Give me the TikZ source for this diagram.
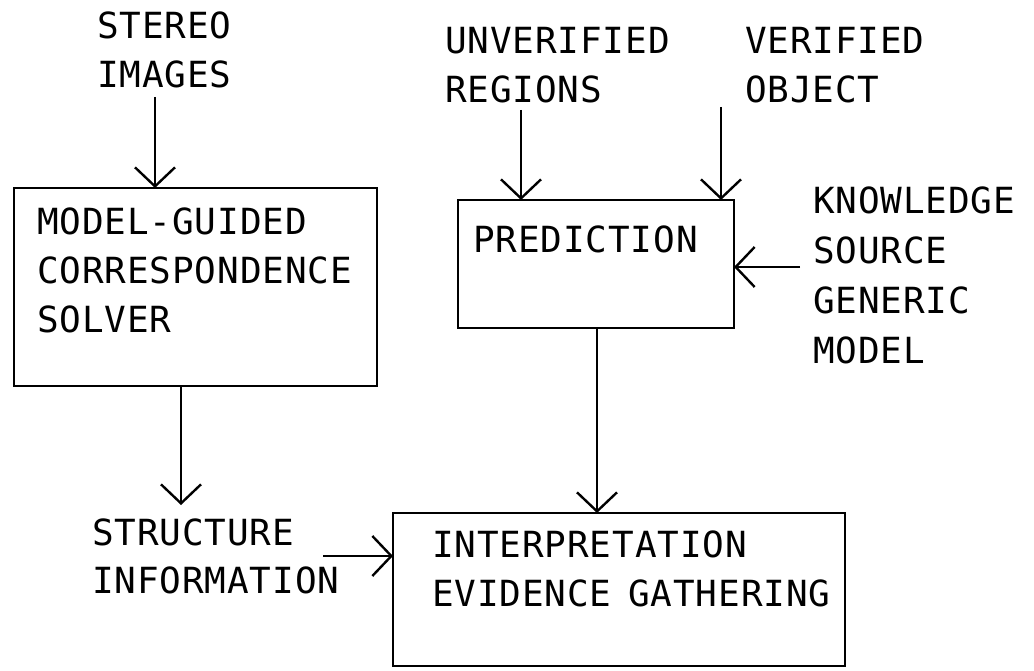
\documentclass[tikz,border=0pt]{standalone}
\usepackage{fontspec}
\setmonofont[LetterSpace=2.5]{DejaVu Sans Mono}
\usetikzlibrary{arrows.meta}
\begin{document}
\begin{tikzpicture}[x=1pt,y=-1pt,
  every node/.style={inner sep=0pt, outer sep=0pt},
  lbl/.style={anchor=north west, align=left,
    font=\ttfamily\fontsize{36}{49}\selectfont},
  blk/.style={draw, line width=2.4pt, anchor=north west},
  flow/.style={line width=2.4pt, -{Straight Barb[length=19pt,width=40pt,line width=2.4pt]}}]
\useasboundingbox (0,0) rectangle (1034,671);

% process boxes
\node[blk, minimum width=363pt, minimum height=198pt] (solver) at (14,188) {};
\node[blk, minimum width=276pt, minimum height=128pt] (pred) at (458,200) {};
\node[blk, minimum width=452pt, minimum height=153pt] (interp) at (393,513) {};

% box texts
\node[lbl] (tsolver) at (37,208) {MODEL-GUIDED\\CORRESPONDENCE\\SOLVER};
\node[lbl] (tpred) at (473,226) {PREDICTION};
\node[lbl] (tinterp) at (432,531) {INTERPRETATION\\EVIDENCE\kern-6pt{} GATHERING};

% inputs and outputs
\node[lbl] (stereo) at (97,12) {STEREO\\IMAGES};
\node[lbl] (unver) at (445,27) {UNVERIFIED\\REGIONS};
\node[lbl] (ver) at (745,27) {VERIFIED\\OBJECT};
\node[lbl, font=\ttfamily\fontsize{36}{50}\selectfont] (know) at (813,187) {KNOWLEDGE\\SOURCE\\GENERIC\\MODEL};
\node[lbl, font=\ttfamily\fontsize{36}{48}\selectfont] (struct) at (92,519) {STRUCTURE\\INFORMATION};

% free ends of the connectors
\coordinate (cstereo) at (155,97);
\coordinate (cunver) at (521,110);
\coordinate (cver) at (721,107);
\coordinate (cknow) at (800,267);
\coordinate (cstruct) at (181,505);
\coordinate (cinfo) at (323,556);

% connectors
\draw[flow] (cstereo) -- (cstereo |- solver.north);
\draw[flow] (cunver) -- (cunver |- pred.north);
\draw[flow] (cver) -- (cver |- pred.north);
\draw[flow] (cknow) -- (cknow -| pred.east);
\draw[flow] (cstruct |- solver.south) -- (cstruct);
\draw[flow] (pred.south -| 597,0) -- (interp.north -| 597,0);
\draw[flow] (cinfo) -- (cinfo -| interp.west);
\end{tikzpicture}
\end{document}
